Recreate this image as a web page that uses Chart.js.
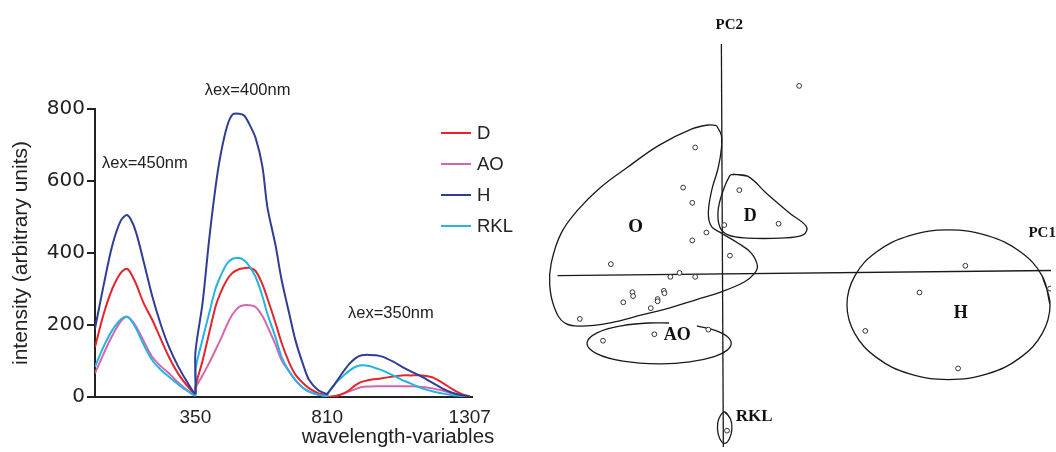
<!DOCTYPE html>
<html>
<head>
<meta charset="utf-8">
<script src="https://cdn.jsdelivr.net/npm/chart.js@4.4.1/dist/chart.umd.min.js"></script>
<style>
  html, body { margin: 0; padding: 0; background: #fff; }
  #wrap { position: relative; width: 1056px; height: 452px; overflow: hidden; }
  #spectra { position: absolute; left: 0; top: 0; }
  #pca { position: absolute; left: 530px; top: 0; }
</style>
</head>
<body>
<div id="wrap">
  <canvas id="spectra" width="530" height="452"></canvas>
  <canvas id="pca" width="526" height="452"></canvas>
</div>
<script>
// ---- left panel: emission spectra (three excitation blocks) ----
const wavelength = [0, 30, 60, 90, 113, 140, 170, 200, 230, 258, 290, 328, 350,
  350, 375, 398, 420, 437, 460, 480, 502, 520, 537, 560, 584, 601, 630, 651, 678, 699, 726, 747, 780, 810,
  810, 840, 862, 885, 909, 930, 956, 980, 1002, 1040, 1071, 1100, 1141, 1176, 1211, 1246, 1280, 1307];

const seriesD = [139, 230, 300, 345, 356, 320, 260, 214, 160, 111, 65, 25, 8,
  28, 100, 177, 250, 288, 325, 345, 355, 358, 359, 350, 313, 275, 205, 150, 94, 62, 38, 24, 10, 5,
  0, 3, 8, 18, 33, 42, 47, 50, 52, 57, 60, 60, 60, 55, 40, 22, 8, 2];
const seriesAO = [66, 120, 170, 210, 222, 200, 155, 111, 85, 66, 40, 15, 5,
  24, 60, 94, 130, 158, 200, 230, 250, 255, 255, 250, 225, 197, 145, 102, 70, 47, 25, 15, 6, 3,
  0, 3, 8, 15, 22, 28, 29, 30, 30, 30, 30, 30, 28, 24, 18, 10, 4, 1];
const seriesH = [190, 310, 420, 490, 505, 465, 375, 279, 200, 139, 85, 33, 10,
  122, 260, 436, 580, 668, 750, 785, 787, 782, 760, 720, 640, 529, 420, 325, 230, 158, 90, 47, 18, 8,
  8, 40, 66, 90, 108, 116, 117, 116, 112, 98, 84, 72, 56, 40, 24, 12, 5, 2];
const seriesRKL = [84, 140, 185, 215, 223, 195, 145, 102, 75, 56, 35, 14, 5,
  74, 160, 232, 300, 334, 370, 384, 386, 380, 365, 334, 280, 232, 165, 111, 70, 47, 25, 15, 6, 3,
  8, 40, 56, 72, 84, 88, 86, 80, 74, 60, 47, 38, 24, 16, 10, 5, 3, 1];

const seriesNames = ['D', 'AO', 'H', 'RKL'];
const seriesColors = ['#e3262c', '#d566ad', '#2f3e94', '#25b4e1'];
const xTickValues = [350, 810, 1307];
const yTickValues = [0, 200, 400, 600, 800];
const peakNotes = ['\u03bbex=450nm', '\u03bbex=400nm', '\u03bbex=350nm'];
const peakNoteX = [174, 532, 1032];
const peakNoteY = [650, 852, 232];

const SANS = '"Liberation Sans", Arial, sans-serif';

function toPoints(ys) {
  return ys.map(function(y, i) { return { x: wavelength[i], y: y }; });
}

const spectraData = [seriesD, seriesAO, seriesH, seriesRKL];
// draw order: H on top, then RKL, D, AO underneath
const drawOrder = [2, 3, 0, 1];

const spectraDatasets = drawOrder.map(function(i) {
  return {
    label: seriesNames[i],
    data: toPoints(spectraData[i]),
    borderColor: seriesColors[i],
    borderWidth: 2,
    pointRadius: 0,
    tension: 0.3,
    fill: false
  };
});

const spectraText = {
  id: 'spectraText',
  afterDraw: function(chart) {
    const ctx = chart.ctx;
    const xs = chart.scales.x, ys = chart.scales.y;
    ctx.save();
    ctx.fillStyle = '#222';
    ctx.textBaseline = 'middle';
    ctx.textAlign = 'center';
    ctx.font = '16.5px ' + SANS;
    for (var i = 0; i < peakNotes.length; i++) {
      ctx.fillText(peakNotes[i], xs.getPixelForValue(peakNoteX[i]), ys.getPixelForValue(peakNoteY[i]));
    }
    // legend
    ctx.textAlign = 'left';
    ctx.font = '18.5px ' + SANS;
    for (var k = 0; k < seriesNames.length; k++) {
      var ly = 133 + k * 31;
      ctx.strokeStyle = seriesColors[k];
      ctx.lineWidth = 2;
      ctx.beginPath();
      ctx.moveTo(441, ly);
      ctx.lineTo(471, ly);
      ctx.stroke();
      ctx.fillText(seriesNames[k], 477, ly + 1);
    }
    // x title, set to the right like the original
    ctx.textAlign = 'center';
    ctx.font = '20.5px ' + SANS;
    ctx.fillText('wavelength-variables', 398, 437);
    ctx.restore();
  }
};

new Chart(document.getElementById('spectra'), {
  type: 'line',
  data: { datasets: spectraDatasets },
  options: {
    responsive: false,
    animation: false,
    layout: { padding: { top: 109, right: 58, bottom: 0, left: 0 } },
    plugins: { legend: { display: false }, tooltip: { enabled: false } },
    scales: {
      x: {
        type: 'linear',
        min: 0,
        max: 1315,
        afterBuildTicks: function(scale) {
          scale.ticks = xTickValues.map(function(v) { return { value: v }; });
        },
        afterFit: function(scale) { scale.height = 55; },
        grid: { display: false, drawTicks: false },
        border: { display: true, color: '#222', width: 2 },
        ticks: {
          color: '#222',
          padding: 9,
          maxRotation: 0,
          autoSkip: false,
          callback: function(v) { return String(v); },
          font: { family: SANS, size: 19 }
        }
      },
      y: {
        min: 0,
        max: 800,
        afterBuildTicks: function(scale) {
          scale.ticks = yTickValues.map(function(v) { return { value: v }; });
        },
        afterFit: function(scale) { scale.width = 95; },
        grid: { drawOnChartArea: false, drawTicks: true, tickLength: 8, color: '#222', lineWidth: 2 },
        border: { display: true, color: '#222', width: 2 },
        ticks: {
          color: '#222',
          padding: 2,
          font: { family: '"DejaVu Sans", sans-serif', size: 20 }
        },
        title: {
          display: true,
          text: 'intensity (arbitrary units)',
          color: '#222',
          padding: { top: 9, bottom: 0 },
          font: { family: SANS, size: 21 }
        }
      }
    }
  },
  plugins: [spectraText]
});

// ---- right panel: PCA score plot ----
const pcScoreX = [7.93, -2.67, -3.9, -2.97, 1.83, 5.83, 0.3, -1.53, -2.97, 0.87, -11.27, -4.27, -5.2, -2.67,
  -9.07, -9.0, -5.87, -5.8, -6.5, -6.5, -10.0, -7.2, -14.43, -6.83, -1.33, -12.07,
  24.87, 20.2, 14.67, 24.13, 33.5, 0.57];
const pcScoreY = [19.23, 12.93, 8.83, 7.27, 8.57, 5.13, 5.0, 4.23, 3.43, 1.87, 1.0, 0.1, -0.3, -0.3,
  -1.87, -2.27, -1.73, -1.97, -2.57, -2.8, -2.9, -3.5, -4.6, -6.17, -5.7, -6.83,
  0.83, -1.9, -5.83, -9.67, -1.5, -16.03];

const outlineO_x = [-0.5, 0, 0, -0.33, -1.0, -1.33, -1.0, 0, 1.67, 3.0, 3.67, 3.33, 2.33, 0, -2.67, -5.33, -8.0,
  -11.33, -14.33, -16.0, -17.0, -17.5, -17.33, -16.33, -14.67, -12.33, -9.67, -6.33, -3.0, -1.33, -0.5];
const outlineO_y = [15.17, 14.17, 12.83, 10.83, 8.5, 6.17, 4.83, 4.17, 3.17, 2.17, 0.83, 0, -0.83, -1.83, -2.67, -3.5, -4.17,
  -5.0, -5.33, -5.0, -3.5, -1.17, 1.17, 4.17, 6.5, 8.83, 10.83, 13.17, 14.83, 15.23, 15.17];

const outlineD_x = [1.17, 2.67, 4.67, 7.0, 8.67, 8.33, 6.0, 2.67, 0.67, -0.17, -0.33, 0.17, 0.83, 1.17, 2.67];
const outlineD_y = [10.17, 10.0, 8.17, 6.17, 4.83, 4.0, 3.67, 3.67, 4.0, 4.83, 6.5, 8.5, 10.0, 10.17, 10.0];

// open at the top where the "AO" label sits
const outlineAO_x = [-2.5, -0.72, 0.56, 1.0, 0.56, -0.72, -3.24, -6.35, -10.03, -12.72, -13.7, -12.72, -10.03, -7.37, -5.33];
const outlineAO_y = [-5.32, -5.75, -6.38, -7.1, -7.82, -8.45, -9.0, -9.2, -8.92, -8.15, -7.1, -6.05, -5.28, -5.02, -5.02];

const outlineH_x = [33.5, 32.71, 30.47, 27.11, 23.15, 19.19, 15.83, 13.59, 12.8, 13.59, 15.83, 19.19,
  23.15, 27.11, 30.47, 32.71, 33.5, 32.71];
const outlineH_y = [-3.15, -0.22, 2.26, 3.92, 4.5, 3.92, 2.26, -0.22, -3.15, -6.08, -8.56, -10.22,
  -10.8, -10.22, -8.56, -6.08, -3.15, -0.22];

const outlineRKL_x = [0.33, 0.93, 1.07, 0.83, 0.33, -0.17, -0.4, -0.27, 0.33, 0.93];
const outlineRKL_y = [-14.1, -14.83, -15.83, -16.83, -17.33, -16.83, -15.83, -14.83, -14.1, -14.83];

const pc1Axis_x = [-16.7, 33.6];
const pc1Axis_y = [-0.17, 0.35];
const pc2Axis_x = [0, 0.2];
const pc2Axis_y = [23.5, -17.7];

const pcaLabels = ['PC2', 'PC1', 'O', 'D', 'AO', 'H', 'RKL'];
const pcaLabelX = [0.8, 32.7, -8.73, 2.93, -4.5, 24.4, 3.33];
const pcaLabelY = [25.4, 4.17, 4.83, 5.9, -6.33, -4.0, -14.57];
const pcaLabelSize = [15, 15, 19, 18, 18, 18, 17];

function zipXY(xs, ys) {
  return xs.map(function(x, i) { return { x: x, y: ys[i] }; });
}

function outline(xs, ys, tension) {
  return {
    data: zipXY(xs, ys),
    showLine: true,
    borderColor: '#1a1a1a',
    borderWidth: 1.3,
    pointRadius: 0,
    tension: tension,
    fill: false
  };
}

const pcaDatasets = [
  {
    data: zipXY(pcScoreX, pcScoreY),
    pointStyle: 'circle',
    pointRadius: 2.4,
    pointBorderWidth: 1,
    pointBorderColor: '#333',
    pointBackgroundColor: '#fff'
  },
  outline(pc1Axis_x, pc1Axis_y, 0),
  outline(pc2Axis_x, pc2Axis_y, 0),
  outline(outlineO_x, outlineO_y, 0.4),
  outline(outlineD_x, outlineD_y, 0.4),
  outline(outlineAO_x, outlineAO_y, 0.4),
  outline(outlineH_x, outlineH_y, 0.4),
  outline(outlineRKL_x, outlineRKL_y, 0.4)
];

const pcaText = {
  id: 'pcaText',
  afterDraw: function(chart) {
    const ctx = chart.ctx;
    const xs = chart.scales.x, ys = chart.scales.y;
    ctx.save();
    ctx.fillStyle = '#111';
    ctx.textAlign = 'center';
    ctx.textBaseline = 'middle';
    for (var i = 0; i < pcaLabels.length; i++) {
      ctx.font = 'bold ' + pcaLabelSize[i] + 'px "Liberation Serif", "DejaVu Serif", serif';
      ctx.fillText(pcaLabels[i], xs.getPixelForValue(pcaLabelX[i]), ys.getPixelForValue(pcaLabelY[i]));
    }
    ctx.restore();
  }
};

new Chart(document.getElementById('pca'), {
  type: 'scatter',
  data: { datasets: pcaDatasets },
  options: {
    responsive: false,
    animation: false,
    layout: { padding: 0 },
    plugins: { legend: { display: false }, tooltip: { enabled: false } },
    scales: {
      x: { type: 'linear', min: -19, max: 33.6, display: false },
      y: { type: 'linear', min: -17.7, max: 27.5, display: false }
    }
  },
  plugins: [pcaText]
});
</script>
</body>
</html>
